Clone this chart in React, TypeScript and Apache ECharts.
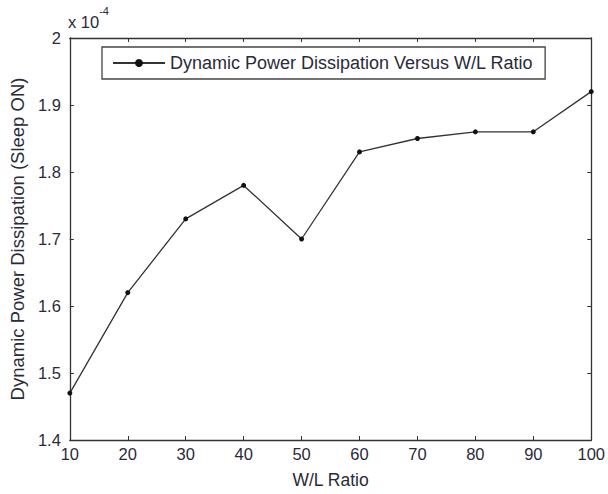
import React, { useEffect, useRef } from "react";
import * as echarts from "echarts";

// W/L ratio values
const ratios = [10, 20, 30, 40, 50, 60, 70, 80, 90, 100];
// Dynamic power dissipation, in units of 1e-4
const power = [1.47, 1.62, 1.73, 1.78, 1.7, 1.83, 1.85, 1.86, 1.86, 1.92];
const seriesName = "Dynamic Power Dissipation Versus W/L Ratio";
const xName = "W/L Ratio";
const yName = "Dynamic Power Dissipation (Sleep ON)";

const FONT = "Liberation Sans, Arial, sans-serif";
const TXT = "#2a2a3a";

export default function App() {
  const ref = useRef<HTMLDivElement>(null);
  useEffect(() => {
    if (!ref.current) return;
    const chart = echarts.init(ref.current, undefined, { renderer: "svg" });
    const axisLine = { show: true, lineStyle: { color: "#333", width: 1.3 } };
    const tick = { show: true, inside: true, length: 4, lineStyle: { color: "#333" } };
    chart.setOption({
      animation: false,
      backgroundColor: "#fff",
      textStyle: { fontFamily: FONT },
      grid: { left: 69, right: 15, top: 38, bottom: 52 },
      legend: {
        left: 102,
        top: 47,
        padding: [7, 12, 7, 10],
        borderColor: "#444",
        borderWidth: 1.3,
        itemWidth: 52,
        itemHeight: 10,
        textStyle: { fontFamily: FONT, fontSize: 18, color: TXT },
        data: [{ name: seriesName }],
      },
      xAxis: [
        {
          type: "value",
          min: 10,
          max: 100,
          interval: 10,
          name: xName,
          nameLocation: "middle",
          nameGap: 31,
          nameTextStyle: { fontFamily: FONT, fontSize: 17.5, color: TXT },
          axisLine,
          axisTick: tick,
          splitLine: { show: false },
          axisLabel: { fontFamily: FONT, fontSize: 16.5, color: TXT, margin: 5 },
        },
        {
          type: "value",
          position: "top",
          min: 10,
          max: 100,
          interval: 10,
          axisLine,
          axisTick: tick,
          splitLine: { show: false },
          axisLabel: { show: false },
        },
      ],
      yAxis: [
        {
          type: "value",
          min: 1.4,
          max: 2,
          interval: 0.1,
          name: yName,
          nameLocation: "middle",
          nameGap: 41,
          nameTextStyle: { fontFamily: FONT, fontSize: 18.5, color: TXT },
          axisLine,
          axisTick: tick,
          splitLine: { show: false },
          axisLabel: {
            fontFamily: FONT,
            fontSize: 16.5,
            color: TXT,
            margin: 9,
            formatter: (v: number) => String(+v.toFixed(1)),
          },
        },
        {
          type: "value",
          position: "right",
          min: 1.4,
          max: 2,
          interval: 0.1,
          axisLine,
          axisTick: tick,
          splitLine: { show: false },
          axisLabel: { show: false },
        },
      ],
      graphic: [
        {
          type: "text",
          left: 68,
          top: 5,
          style: {
            text: "{a|x 10}{b|-4}",
            fontFamily: FONT,
            fill: TXT,
            rich: {
              a: { fontSize: 16.5, fontFamily: FONT, fill: TXT, verticalAlign: "bottom", padding: [8, 0, 0, 0] },
              b: { fontSize: 11, fontFamily: FONT, fill: TXT, verticalAlign: "top" },
            },
          },
        },
      ],
      series: [
        {
          name: seriesName,
          type: "line",
          data: ratios.map((r, i) => [r, power[i]]),
          symbol: "circle",
          symbolSize: 5,
          lineStyle: { color: "#333", width: 1.3 },
          itemStyle: { color: "#111" },
        },
      ],
    });
    return () => chart.dispose();
  }, []);
  return (
    <div
      ref={ref}
      style={{ position: "fixed", left: 0, top: 0, width: 608, height: 494 }}
    />
  );
}
